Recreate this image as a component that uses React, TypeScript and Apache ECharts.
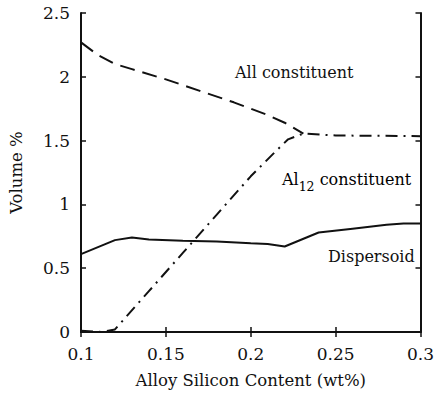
import React, { useEffect, useRef } from "react";
import * as echarts from "echarts";

const allX = [0.1, 0.11, 0.12, 0.13, 0.15, 0.17, 0.19, 0.21, 0.22, 0.231];
const allY = [2.27, 2.17, 2.1, 2.06, 1.98, 1.89, 1.8, 1.7, 1.64, 1.555];

const al12X = [0.1, 0.112, 0.12, 0.14, 0.16, 0.18, 0.2, 0.215, 0.222, 0.231, 0.25, 0.3];
const al12Y = [0.01, 0.0, 0.02, 0.32, 0.62, 0.92, 1.22, 1.42, 1.51, 1.555, 1.54, 1.535];

const dispX = [0.1, 0.12, 0.13, 0.14, 0.16, 0.18, 0.2, 0.21, 0.22, 0.24, 0.26, 0.28, 0.29, 0.3];
const dispY = [0.61, 0.72, 0.74, 0.725, 0.715, 0.71, 0.695, 0.69, 0.67, 0.78, 0.81, 0.84, 0.85, 0.85];

const xTicks = [0.1, 0.15, 0.2, 0.25, 0.3];
const yTicks = [0, 0.5, 1, 1.5, 2, 2.5];

const zip = (xs: number[], ys: number[]) => xs.map((x, i) => [x, ys[i]]);

const FONT = "DejaVu Serif";
const INK = "#111";

export default function App() {
  const ref = useRef<HTMLDivElement>(null);
  useEffect(() => {
    if (!ref.current) return;
    const chart = echarts.init(ref.current, null, { renderer: "svg" });
    const fmt = (v: number) => String(+v.toFixed(2));
    const lineStyleBase = { color: INK, width: 2 };
    chart.setOption({
      animation: false,
      backgroundColor: "#fff",
      textStyle: { fontFamily: FONT },
      grid: { left: 79, right: 12, top: 13, bottom: 69 },
      xAxis: [
        {
          type: "value",
          min: xTicks[0],
          max: xTicks[xTicks.length - 1],
          interval: 0.05,
          name: "Alloy Silicon Content (wt%)",
          nameLocation: "middle",
          nameGap: 40,
          nameTextStyle: { fontFamily: FONT, fontSize: 16.5, color: INK },
          axisLine: { show: true, lineStyle: { color: INK, width: 2 } },
          axisTick: { show: true, inside: true, length: 5, lineStyle: { color: INK, width: 1.5 } },
          axisLabel: { formatter: fmt, fontFamily: FONT, fontSize: 17, color: INK, margin: 13 },
          splitLine: { show: false },
        },
        {
          type: "value",
          position: "top",
          min: xTicks[0],
          max: xTicks[xTicks.length - 1],
          interval: 0.05,
          axisLine: { show: true, lineStyle: { color: INK, width: 2 } },
          axisTick: { show: true, inside: true, length: 5, lineStyle: { color: INK, width: 1.5 } },
          axisLabel: { show: false },
          splitLine: { show: false },
        },
      ],
      yAxis: [
        {
          type: "value",
          min: yTicks[0],
          max: yTicks[yTicks.length - 1],
          interval: 0.5,
          name: "Volume %",
          nameLocation: "middle",
          nameGap: 56,
          nameTextStyle: { fontFamily: FONT, fontSize: 16.5, color: INK },
          axisLine: { show: true, lineStyle: { color: INK, width: 2 } },
          axisTick: { show: true, inside: true, length: 5, lineStyle: { color: INK, width: 1.5 } },
          axisLabel: { formatter: fmt, fontFamily: FONT, fontSize: 17, color: INK, margin: 11 },
          splitLine: { show: false },
        },
        {
          type: "value",
          position: "right",
          min: yTicks[0],
          max: yTicks[yTicks.length - 1],
          interval: 0.5,
          axisLine: { show: true, lineStyle: { color: INK, width: 2 } },
          axisTick: { show: true, inside: true, length: 5, lineStyle: { color: INK, width: 1.5 } },
          axisLabel: { show: false },
          splitLine: { show: false },
        },
      ],
      series: [
        {
          name: "All constituent",
          type: "line",
          data: zip(allX, allY),
          symbol: "none",
          lineStyle: { ...lineStyleBase, type: [15, 8] },
          z: 3,
        },
        {
          name: "Al12 constituent",
          type: "line",
          data: zip(al12X, al12Y),
          symbol: "none",
          lineStyle: { ...lineStyleBase, type: [12, 6, 2, 6] },
          z: 3,
        },
        {
          name: "Dispersoid",
          type: "line",
          data: zip(dispX, dispY),
          symbol: "none",
          lineStyle: { ...lineStyleBase },
          z: 3,
        },
      ],
      graphic: [
        {
          type: "text",
          left: 235,
          top: 64,
          style: { text: "All constituent", fontFamily: FONT, fontSize: 16, fill: INK },
        },
        {
          type: "text",
          left: 282,
          top: 171,
          style: {
            text: "{a|Al}{s|12}{a| constituent}",
            rich: {
              a: { fontFamily: FONT, fontSize: 16, color: INK, verticalAlign: "bottom", lineHeight: 24 },
              s: { fontFamily: FONT, fontSize: 12.5, color: INK, verticalAlign: "bottom", lineHeight: 18, padding: [0, 0, -6, 0] },
            },
          },
        },
        {
          type: "text",
          left: 328,
          top: 248,
          style: { text: "Dispersoid", fontFamily: FONT, fontSize: 16, fill: INK },
        },
      ],
    });
    return () => chart.dispose();
  }, []);
  return <div ref={ref} style={{ width: 437, height: 401, position: "absolute", left: 0, top: 0 }} />;
}
